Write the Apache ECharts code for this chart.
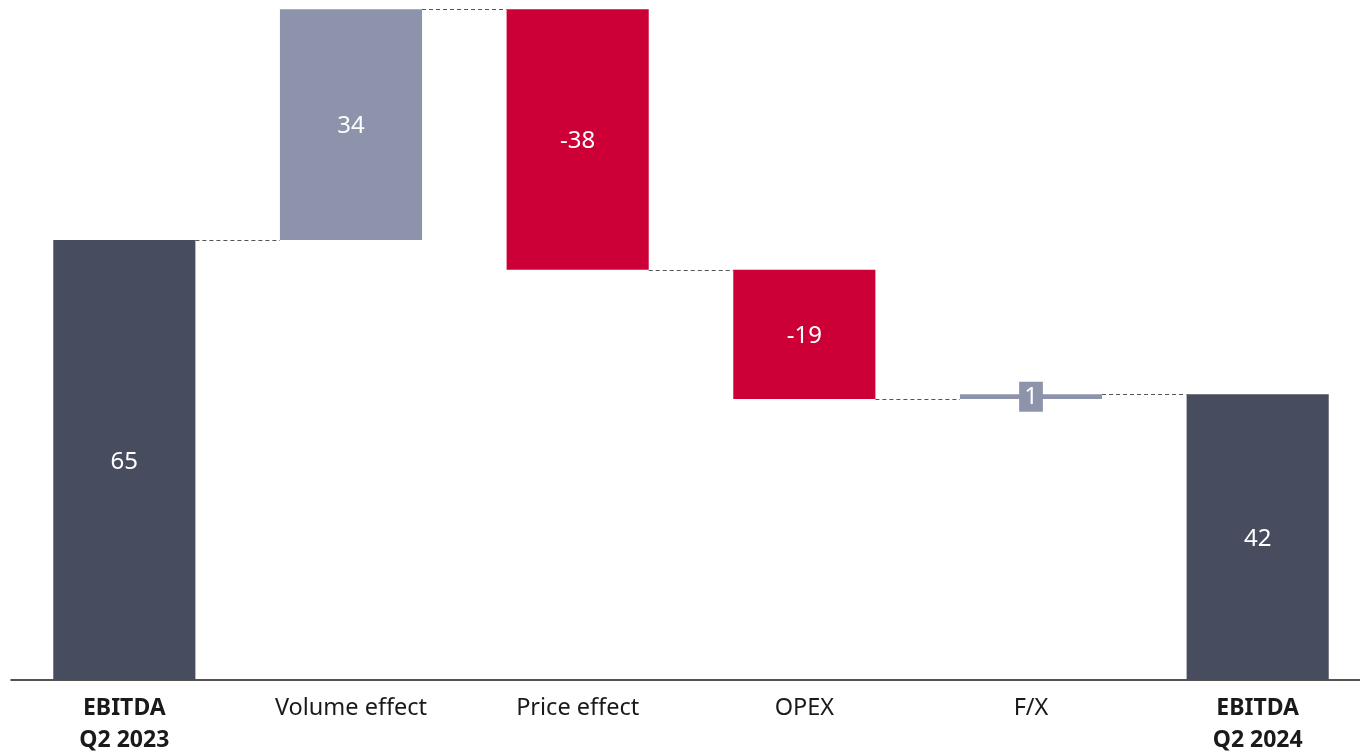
<!DOCTYPE html>
<html>
<head>
<meta charset="utf-8">
<script src="https://cdn.jsdelivr.net/npm/echarts@6/dist/echarts.min.js"></script>
<style>
html,body{margin:0;padding:0;background:#fff;}
#chart{width:1360px;height:753px;}
</style>
</head>
<body>
<div id="chart"></div>
<script>
const categories = ['EBITDA\nQ2 2023', 'Volume effect', 'Price effect', 'OPEX', 'F/X', 'EBITDA\nQ2 2024'];
const values = [65, 34.1, -38.5, -19.1, 0.7, 42.2];
const isTotal = [true, false, false, false, false, true];

const COLOR_TOTAL = '#474c5e';
const COLOR_UP = '#8d93ab';
const COLOR_DOWN = '#cc0037';

// build waterfall helpers
const base = [], height = [], levels = [];
let run = 0;
values.forEach((v, i) => {
  if (isTotal[i]) {
    base.push(0); height.push(v); run = v;
  } else {
    const next = run + v;
    base.push(Math.min(run, next)); height.push(Math.abs(v)); run = next;
  }
  levels.push(run);
});
const connectorData = levels.slice(0, -1).map((l, i) => [i, l]);

const BAR_RATIO = 0.627;
const FONT = '"Noto Sans", "Open Sans", sans-serif';

const chart = echarts.init(document.getElementById('chart'));
chart.setOption({
  animation: false,
  grid: { left: 11, top: 0, width: 1360, bottom: 73, outerBoundsMode: 'none', containLabel: false },
  xAxis: {
    type: 'category',
    data: categories,
    axisTick: { show: false },
    axisLine: { lineStyle: { color: '#1a1a1a', width: 1.5 } },
    axisLabel: {
      margin: 12,
      interval: 0,
      color: '#1a1a1a',
      fontFamily: FONT,
      fontSize: 23.5,
      lineHeight: 32,
      formatter: (val, idx) => {
        if (isTotal[idx]) return val.split('\n').map(s => '{b|' + s + '}').join('\n');
        return val;
      },
      rich: {
        b: { fontWeight: 'bold', fontSize: 23, lineHeight: 32, color: '#1a1a1a', fontFamily: FONT }
      }
    }
  },
  yAxis: { type: 'value', show: false, min: 0, max: 100.46, splitLine: { show: false } },
  series: [
    {
      type: 'bar', stack: 'wf', barWidth: (BAR_RATIO * 100) + '%',
      itemStyle: { color: 'transparent' },
      emphasis: { disabled: true },
      data: base
    },
    {
      type: 'bar', stack: 'wf', barWidth: (BAR_RATIO * 100) + '%',
      emphasis: { disabled: true },
      data: height.map((h, i) => {
        const c = isTotal[i] ? COLOR_TOTAL : (values[i] >= 0 ? COLOR_UP : COLOR_DOWN);
        const item = { value: h, itemStyle: { color: c } };
        if (i === 4) {
          item.label = { backgroundColor: COLOR_UP, padding: [5, 5, 3, 5], offset: [0, 0] };
        }
        return item;
      }),
      label: {
        show: true,
        position: 'inside',
        color: '#ffffff',
        fontFamily: FONT,
        fontSize: 24,
        lineHeight: 22,
        offset: [0, 2],
        formatter: p => String(Math.round(values[p.dataIndex]))
      }
    },
    {
      type: 'custom',
      silent: true,
      z: 1,
      data: connectorData,
      renderItem: (params, api) => {
        const p = api.coord([api.value(0), api.value(1)]);
        const bandW = api.size([1, 0])[0];
        const barW = bandW * BAR_RATIO;
        const y = Math.round(p[1]) + 0.5;
        return {
          type: 'line',
          shape: { x1: p[0] + barW / 2, y1: y, x2: p[0] + bandW - barW / 2, y2: y },
          style: { stroke: '#555555', lineWidth: 1, lineDash: [4, 3] }
        };
      }
    }
  ]
});
</script>
</body>
</html>
